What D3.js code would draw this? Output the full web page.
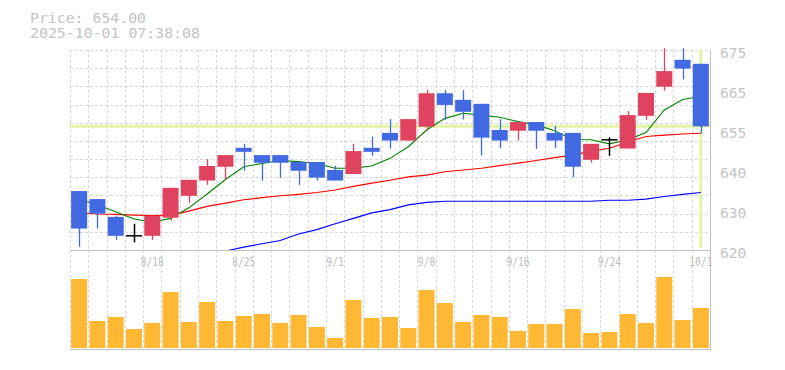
<!DOCTYPE html>
<html>
<head>
<meta charset="utf-8">
<script src="https://cdn.jsdelivr.net/npm/d3@7"></script>
<style>
  body { margin: 0; background: #fff; }
  text { font-family: "DejaVu Sans Mono", "Liberation Mono", monospace; }
</style>
</head>
<body>
<svg id="chart"></svg>
<script>
// Trading days (M/D)
const dates = ["8/12","8/13","8/14","8/15","8/18","8/19","8/20","8/21","8/22",
  "8/25","8/26","8/27","8/28","8/29","9/1","9/2","9/3","9/4","9/5",
  "9/8","9/9","9/10","9/11","9/12","9/16","9/17","9/18","9/19","9/22",
  "9/24","9/25","9/26","9/29","9/30","10/1"];

// OHLC
const open  = [636.2,634.0,629.1,623.9,623.9,628.9,634.9,639.1,642.9,648.1,646.1,646.1,644.2,644.2,642.0,640.9,648.1,652.2,650.1,
  653.9,663.1,661.3,660.2,653.0,652.8,655.2,652.2,652.2,644.8,650.3,647.9,656.9,664.9,672.3,671.2];
const high  = [636.2,634.0,629.5,627.2,629.4,637.1,639.3,645.0,646.1,649.2,646.1,646.1,644.2,644.2,643.1,649.2,651.2,656.0,656.0,
  664.0,664.0,664.0,660.2,656.0,655.2,655.2,654.1,652.2,649.2,651.0,658.2,663.2,675.5,675.5,671.2];
const low   = [620.9,625.9,622.8,622.1,622.8,628.1,633.0,637.9,639.3,641.8,639.1,639.9,637.9,639.1,639.1,640.9,645.9,647.9,650.1,
  652.8,655.8,655.9,646.0,648.0,650.1,647.8,648.0,640.0,644.0,645.9,647.9,655.8,663.8,666.9,652.1];
const close = [625.9,630.0,623.9,623.9,629.4,637.1,639.3,643.1,646.1,647.0,644.0,644.0,641.8,639.9,639.1,647.2,647.0,650.1,656.0,
  663.1,659.9,658.0,650.9,650.1,655.2,652.8,650.1,642.9,649.2,650.3,657.1,663.2,669.2,669.9,654.0];

// Volume (thousand shares)
const volume = [69,27,31,19,25,56,26,46,27,32,34,25,33,21,10,48,30,31,20,
  58,45,26,33,31,17,24,24,39,15,16,34,25,71,28,40];

// Moving averages
const ma5  = [634.0,632.4,630.5,628.5,627.7,628.7,631.6,635.4,639.4,642.9,643.8,644.6,644.3,643.8,642.5,642.5,643.1,645.2,648.4,
  653.0,656.2,657.6,657.1,656.5,655.3,654.4,652.8,650.4,650.3,649.2,650.3,652.3,658.5,661.4,662.2];
const ma25 = [630.2,629.9,629.8,629.6,629.5,629.6,630.7,632.0,632.9,633.8,634.4,634.9,635.3,635.8,636.5,637.5,638.4,639.2,640.1,
  640.6,641.5,642.0,642.5,643.2,643.9,644.6,645.4,646.1,647.2,648.0,649.7,651.2,651.6,651.9,652.1];
const ma75 = [612.5,613.4,614.3,615.2,616.1,617.0,617.9,618.8,619.7,620.8,621.7,622.6,624.4,625.6,627.2,628.7,630.2,631.1,632.4,
  633.1,633.4,633.4,633.4,633.4,633.4,633.4,633.4,633.4,633.4,633.7,633.7,634.0,634.7,635.3,635.8];

// Axis labels
const priceLabels = ["675","665","655","640","630","620"];
const xTicks = ["8/18","8/25","9/1","9/8","9/16","9/24","10/1"];
const lastPrice = 654.00;
const timestamp = "2025-10-01 07:38:08";

const width = 785, height = 370;
const plotLeft = 70, plotRight = 710, plotTop = 50, priceBottom = 250, volBottom = 348;

const svg = d3.select("#chart")
    .attr("width", width)
    .attr("height", height)
    .style("background", "#fff");

// Scales
const x = d3.scaleBand()
    .domain(dates)
    .range([plotLeft, plotRight])
    .paddingInner(0.125)
    .paddingOuter(0.0625);

const y = d3.scaleLinear()
    .domain([620, 675])
    .range([priceBottom, plotTop]);

const yVol = d3.scaleLinear()
    .domain([0, 100])
    .range([volBottom, volBottom - 100]);

const gap = (x.step() - x.bandwidth()) / 2;
const cx = d => x(d) + x.bandwidth() / 2;

// Header
svg.append("text").attr("x", 30).attr("y", 22.5)
    .attr("font-size", 13.6).attr("fill", "#c4c4c4")
    .attr("textLength", 116).attr("lengthAdjust", "spacingAndGlyphs")
    .text("Price: " + lastPrice.toFixed(2));
svg.append("text").attr("x", 30).attr("y", 38)
    .attr("font-size", 13.6).attr("fill", "#c4c4c4")
    .attr("textLength", 170).attr("lengthAdjust", "spacingAndGlyphs")
    .text(timestamp);

// Horizontal grid (price panel)
svg.append("g").selectAll("line")
    .data(d3.range(625, 680, 5))
    .enter().append("line")
    .attr("x1", plotLeft).attr("x2", plotRight)
    .attr("y1", d => Math.round(y(d)) + 0.5)
    .attr("y2", d => Math.round(y(d)) + 0.5)
    .attr("stroke", "#d9d9d9")
    .attr("stroke-dasharray", "3,2");

// Vertical grid (both panels)
svg.append("g").selectAll("line")
    .data(dates)
    .enter().append("line")
    .attr("x1", d => Math.round(x(d) - gap) + 0.5)
    .attr("x2", d => Math.round(x(d) - gap) + 0.5)
    .attr("y1", plotTop).attr("y2", volBottom + 1)
    .attr("stroke", "#d9d9d9")
    .attr("stroke-dasharray", "3,2");

// Current price lines
svg.append("line")
    .attr("x1", plotLeft).attr("x2", plotRight)
    .attr("y1", y(lastPrice)).attr("y2", y(lastPrice))
    .attr("stroke", "#e2f5a6").attr("stroke-width", 3);
svg.append("line")
    .attr("x1", cx(dates[dates.length - 1])).attr("x2", cx(dates[dates.length - 1]))
    .attr("y1", plotTop).attr("y2", priceBottom - 2)
    .attr("stroke", "#e2f5a6").attr("stroke-width", 3);

// Moving averages, clipped to the price panel
svg.append("clipPath").attr("id", "clipPrice")
    .append("rect").attr("x", plotLeft).attr("y", plotTop)
    .attr("width", plotRight - plotLeft).attr("height", priceBottom - plotTop);

const maLine = d3.line()
    .x((d, i) => cx(dates[i]))
    .y(d => y(d));

[[ma75, "#0000ff"], [ma25, "#ff0000"], [ma5, "#008000"]].forEach(([vals, color]) => {
    svg.append("path")
        .datum(vals)
        .attr("clip-path", "url(#clipPrice)")
        .attr("d", maLine)
        .attr("fill", "none")
        .attr("stroke", color)
        .attr("stroke-width", 1.1);
});

// Candles
const up = "#e0435f", down = "#4169e1";
const candles = svg.append("g").selectAll("g")
    .data(dates.map((d, i) => ({d, o: open[i], h: high[i], l: low[i], c: close[i]})))
    .enter().append("g");

candles.append("line")
    .attr("x1", d => Math.round(cx(d.d)) + 0.5)
    .attr("x2", d => Math.round(cx(d.d)) + 0.5)
    .attr("y1", d => y(d.h))
    .attr("y2", d => y(d.l))
    .attr("stroke", d => d.c > d.o ? up : d.c < d.o ? down : "#000")
    .attr("stroke-width", d => d.c === d.o ? 1.5 : 1.3);

candles.filter(d => d.c !== d.o).append("rect")
    .attr("x", d => x(d.d))
    .attr("width", x.bandwidth())
    .attr("y", d => y(Math.max(d.o, d.c)))
    .attr("height", d => Math.max(1, y(Math.min(d.o, d.c)) - y(Math.max(d.o, d.c))))
    .attr("fill", d => d.c > d.o ? up : down);

candles.filter(d => d.c === d.o).append("line")
    .attr("x1", d => x(d.d))
    .attr("x2", d => x(d.d) + x.bandwidth())
    .attr("y1", d => y(d.c))
    .attr("y2", d => y(d.c))
    .attr("stroke", "#000")
    .attr("stroke-width", 1.5);

// Volume bars
svg.append("g").selectAll("rect")
    .data(volume)
    .enter().append("rect")
    .attr("x", (d, i) => x(dates[i]))
    .attr("width", x.bandwidth())
    .attr("y", d => yVol(d))
    .attr("height", d => yVol(0) - yVol(d))
    .attr("fill", "#ffb833");

// X labels
svg.append("g").selectAll("text")
    .data(xTicks)
    .enter().append("text")
    .attr("x", d => cx(d))
    .attr("y", 266)
    .attr("text-anchor", "middle")
    .attr("font-size", 12)
    .attr("textLength", d => d.length * 5.8)
    .attr("lengthAdjust", "spacingAndGlyphs")
    .attr("fill", "#bdbdbd")
    .text(d => d);

// Right price labels
const yLab = d3.scalePoint().domain(priceLabels).range([52, 252]);
svg.append("g").selectAll("text")
    .data(priceLabels)
    .enter().append("text")
    .attr("x", 720)
    .attr("y", d => yLab(d) + 5.5)
    .attr("font-size", 14.6)
    .attr("fill", "#c4c4c4")
    .text(d => d);

// Panel borders
svg.append("line")
    .attr("x1", plotLeft).attr("x2", plotRight + 1)
    .attr("y1", priceBottom + 0.5).attr("y2", priceBottom + 0.5)
    .attr("stroke", "#c0c0c0");
svg.append("line")
    .attr("x1", plotLeft).attr("x2", plotRight + 1)
    .attr("y1", volBottom + 1.5).attr("y2", volBottom + 1.5)
    .attr("stroke", "#c0c0c0");
svg.append("line")
    .attr("x1", plotRight + 0.5).attr("x2", plotRight + 0.5)
    .attr("y1", plotTop).attr("y2", volBottom + 2)
    .attr("stroke", "#c0c0c0");
</script>
</body>
</html>
